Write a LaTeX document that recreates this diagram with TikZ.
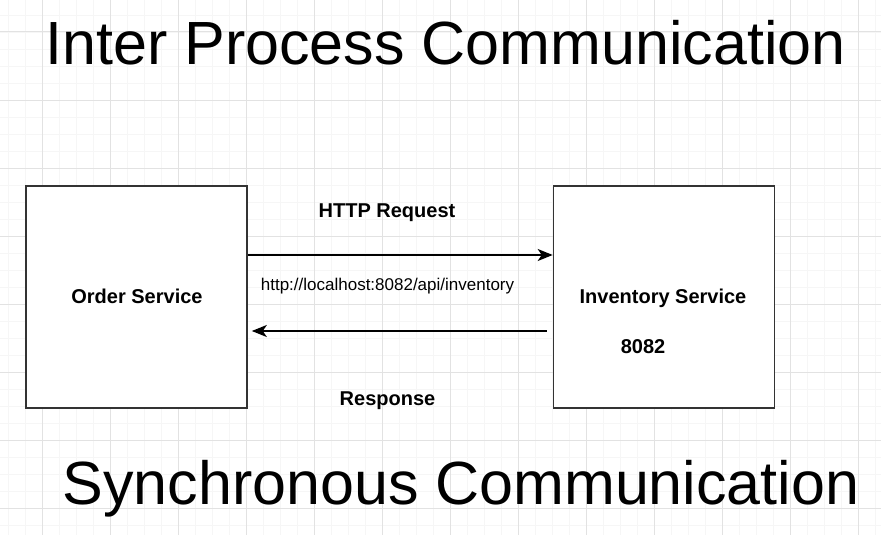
\documentclass[tikz,border=0pt]{standalone}
\usepackage{fontspec}
\setmainfont{Liberation Sans}
\usetikzlibrary{arrows.meta,positioning}
\definecolor{gridminor}{RGB}{246,246,246}
\definecolor{gridmajor}{RGB}{226,226,226}
\definecolor{boxline}{RGB}{51,51,51}

\begin{document}
\begin{tikzpicture}[x=1pt,y=-1pt,
  service/.style={rectangle, draw=boxline, line width=1.6pt, fill=white,
                  minimum width=221pt, minimum height=222pt, inner sep=0pt},
  label/.style={font=\fontsize{20}{20}\selectfont\bfseries, anchor=base},
  headline/.style={font=\fontsize{61}{61}\selectfont, anchor=base west},
  msg/.style={-{Stealth[length=15pt,width=12pt,inset=4pt]}, line width=1.4pt},
]
  \useasboundingbox (0,0) rectangle (881,535);
  \fill[white] (0,0) rectangle (881,535);

  % grid
  \foreach \x in {8,25,...,880} \draw[gridminor, line width=0.8pt] (\x,0) -- (\x,535);
  \foreach \y in {15,32,...,535} \draw[gridminor, line width=0.8pt] (0,\y) -- (881,\y);
  \foreach \x in {42,110,...,880} \draw[gridmajor, line width=1pt] (\x,0) -- (\x,535);
  \foreach \y in {32,100,...,535} \draw[gridmajor, line width=1pt] (0,\y) -- (881,\y);

  % titles
  \node[headline] (ipc) at (42,64) {Inter Process Communication};
  \node[headline] (sync) at (59,504) {Synchronous Communication};

  % services
  \node[service] (order) at (136.5,297) {};
  \node[service] (inventory) at (664,297) {};
  \node[label] (ordertxt) at (137,303) {Order Service};
  \node[label] (invtxt) at (663,303) {Inventory Service};
  \node[label] (port) at (643,353) {8082};

  % calls
  \draw[msg] ([yshift=42pt]order.east) -- ([yshift=42pt]inventory.west);
  \draw[msg] ([xshift=-6pt,yshift=-34pt]inventory.west) -- ([xshift=4pt,yshift=-34pt]order.east);
  \node[label] (req) at (387,217) {HTTP Request};
  \node[anchor=base, font=\fontsize{17}{17}\selectfont] (url) at (387.5,290) {http://localhost:8082/api/inventory};
  \node[label] (resp) at (387.5,405) {Response};
\end{tikzpicture}
\end{document}
